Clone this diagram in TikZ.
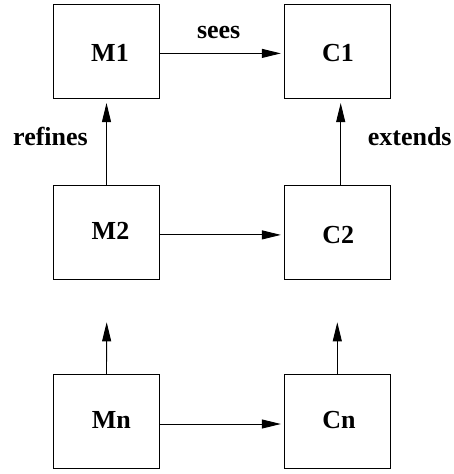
\documentclass[tikz,border=0pt]{standalone}
\usepackage{fontspec}
\setmainfont{Liberation Serif}
\usetikzlibrary{arrows.meta}
\begin{document}
\begin{tikzpicture}[x=1pt,y=-1pt,
  box/.style={draw,line width=0.9pt,minimum width=106pt,minimum height=94pt,inner sep=0pt},
  boxcaption/.style={anchor=base,inner sep=0pt,font=\fontsize{26}{30}\selectfont\bfseries},
  rel/.style={anchor=base,inner sep=0pt,font=\fontsize{26}{30}\selectfont\bfseries},
  link/.style={line width=0.9pt,-{Triangle[length=19pt,width=9pt]}}]
\useasboundingbox (0,0) rectangle (453,474);
% boxes
\node[box] (m1) at (106.5,51.6) {};
\node[box] (c1) at (337.3,51.6) {};
\node[box] (m2) at (106.5,232.9) {};
\node[box] (c2) at (337.3,232.9) {};
\node[box] (mn) at (106.5,421.7) {};
\node[box] (cn) at (337.3,421.7) {};
% box captions
\node[boxcaption] (m1t) at (110,61.7) {M1};
\node[boxcaption] (c1t) at (338,61.7) {C1};
\node[boxcaption] (m2t) at (110.5,239.3) {M2};
\node[boxcaption] (c2t) at (338.3,243.3) {C2};
\node[boxcaption] (mnt) at (111.3,428.3) {Mn};
\node[boxcaption] (cnt) at (339,428.3) {Cn};
% open ends of the lower chains
\coordinate (mup) at (106.7,322.3);
\coordinate (cup) at (337.3,322.3);
% horizontal links
\draw[link,shorten >=3pt] ([yshift=-1.8pt]m1.east) -- ([yshift=-1.8pt]c1.west);
\draw[link,shorten >=3pt] ([yshift=-2pt]m2.east) -- ([yshift=-2pt]c2.west);
\draw[link,shorten >=3pt] ([yshift=-2.3pt]mn.east) -- ([yshift=-2.3pt]cn.west);
% vertical links
\draw[link,shorten >=4pt] (m2.north) -- (m1.south);
\draw[link,shorten >=4pt] ([xshift=3.4pt]c2.north) -- ([xshift=3.4pt]c1.south);
\draw[link] (mn.north) -- (mup);
\draw[link] (cn.north) -- (cup);
% link labels
\node[rel] (sees) at (218.7,38.3) {sees};
\node[rel] (refines) at (50.5,145) {refines};
\node[rel] (extends) at (409.7,145) {extends};
\end{tikzpicture}
\end{document}
